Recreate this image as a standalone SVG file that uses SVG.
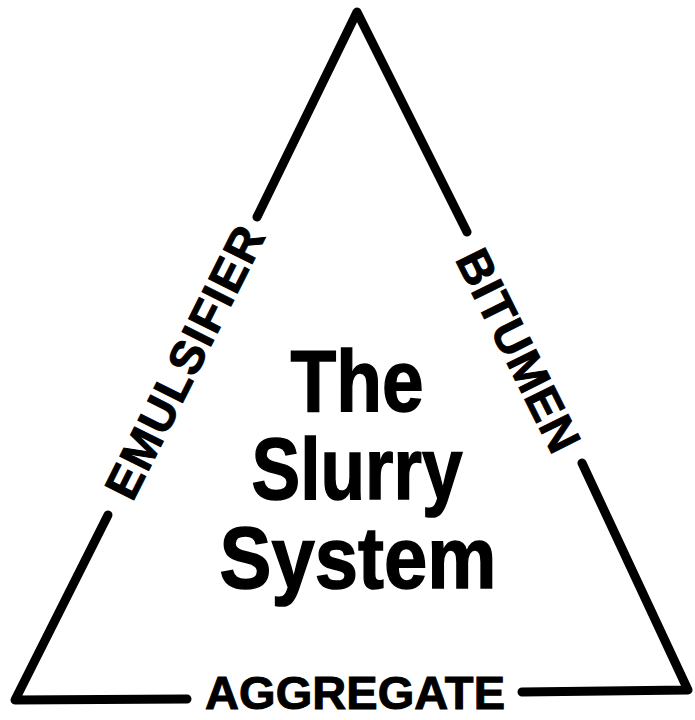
<svg xmlns="http://www.w3.org/2000/svg" width="695" height="720" viewBox="0 0 695 720">
<style>
.edge{fill:none;stroke:#000;stroke-width:9;stroke-linecap:round;stroke-linejoin:round}
.lbl{font-family:"Liberation Sans",Arial,sans-serif;font-weight:bold;font-size:47px;fill:#000;stroke:#000;stroke-width:1;text-anchor:middle}
.title{font-family:"Liberation Sans",Arial,sans-serif;font-weight:bold;font-size:87px;fill:#000;stroke:#000;stroke-width:1.5;text-anchor:middle}
</style>
<rect width="695" height="720" fill="#fff"/>
<g id="connectors">
<path class="edge" d="M257,217 L357,12 L467,232"/>
<path class="edge" d="M108,515 L15,700 L187,699"/>
<path class="edge" d="M582,463 L688,690 L522,692"/>
</g>
<g id="emulsifier" transform="translate(184,362) rotate(-63.4)">
<text class="lbl" x="0" y="17" textLength="298" lengthAdjust="spacing">EMULSIFIER</text>
</g>
<g id="bitumen" transform="translate(519,350) rotate(63.5)">
<text class="lbl" x="0" y="17" textLength="220" lengthAdjust="spacing">BITUMEN</text>
</g>
<g id="aggregate">
<text class="lbl" x="355" y="709" textLength="300" lengthAdjust="spacing">AGGREGATE</text>
</g>
<g id="title">
<text class="title" x="357" y="411" textLength="133" lengthAdjust="spacingAndGlyphs">The</text>
<text class="title" x="357" y="499" textLength="211" lengthAdjust="spacingAndGlyphs">Slurry</text>
<text class="title" x="358" y="588" textLength="277" lengthAdjust="spacingAndGlyphs">System</text>
</g>
</svg>
